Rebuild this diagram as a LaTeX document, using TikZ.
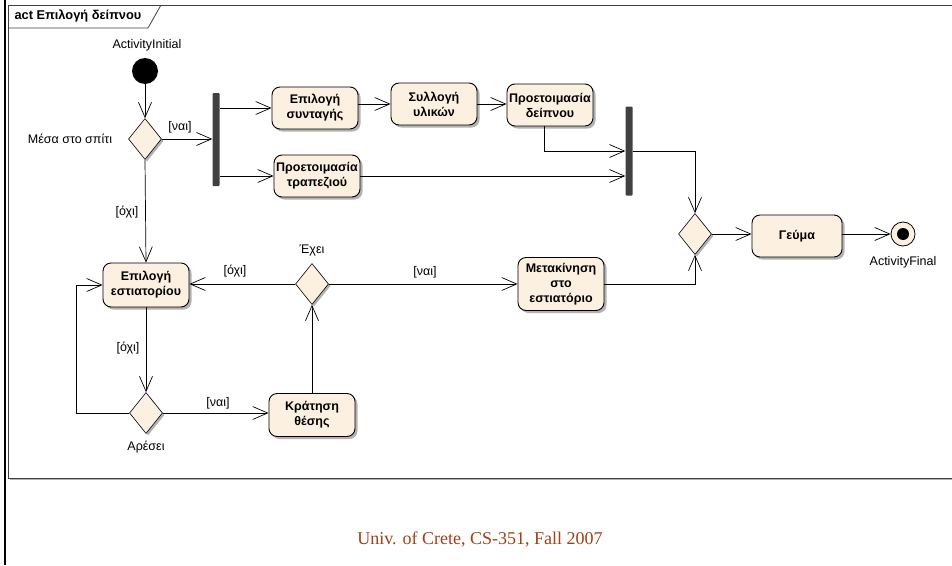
\documentclass[tikz,border=0pt]{standalone}
\usepackage{fontspec}
\setmainfont{Liberation Sans}
\newfontfamily\footfont{Liberation Serif}
\usetikzlibrary{arrows.meta,shapes.geometric,shadows}
\definecolor{actfill}{RGB}{252,240,224}
\definecolor{footcol}{RGB}{165,62,22}

\begin{document}
\begin{tikzpicture}[x=1pt,y=-1pt,
    action/.style={draw,rounded corners=8pt,fill=actfill,line width=0.9pt,align=center,
      font=\bfseries\fontsize{12.5}{15}\selectfont,minimum width=86pt,minimum height=42pt,inner sep=1pt,
      drop shadow={shadow xshift=2.5pt,shadow yshift=-2.5pt,fill=black!30,opacity=1}},
    choice/.style={diamond,draw,fill=actfill,line width=0.6pt,minimum width=33pt,minimum height=41pt,inner sep=0pt,
      drop shadow={shadow xshift=2pt,shadow yshift=-2pt,fill=black!30,opacity=1}},
    bar/.style={fill=black!75,rounded corners=1pt,minimum width=7pt,inner sep=0pt},
    flow/.style={-{Straight Barb[length=15pt,width=13pt]},line width=0.7pt},
    lbl/.style={font=\fontsize{12.5}{14}\selectfont,inner sep=1pt}]
        \useasboundingbox (0,0) rectangle (952,565);

        % frame
        \draw[line width=2pt] (5,0) -- (5,565);
        \draw[black!30,line width=1pt] (9.5,479.5) -- (952,479.5);
        \draw[black!75,line width=1pt] (952,5) -- (8,5) -- (8,478) -- (952,478);
        \draw[black!75,line width=0.8pt] (8,28) -- (148,28) -- (161,5);
        \node[anchor=west,font=\bfseries\fontsize{12.8}{14}\selectfont] (title) at (11,16.5) {act Επιλογή δείπνου};

        % start and first choice
        \node[circle,fill=black,minimum size=26pt,inner sep=0pt] (init) at (145,71) {};
        \node[lbl] (initlbl) at (147,45) {ActivityInitial};
        \node[choice] (home) at (145,139) {};
        \node[lbl] (homelbl) at (70,139) {Μέσα στο σπίτι};
        \node[bar,minimum height=93pt] (fork) at (216,139.5) {};

        % cooking at home
        \node[action] (recipe) at (315,108) {Επιλογή\\συνταγής};
        \node[action] (collect) at (434,104) {Συλλογή\\υλικών};
        \node[action] (cook) at (550,105) {Προετοιμασία\\δείπνου};
        \node[action] (table) at (317,176) {Προετοιμασία\\τραπεζιού};
        \node[bar,minimum height=89pt] (join) at (629,151) {};

        % merge and meal
        \node[choice] (merge) at (695,234) {};
        \node[action,minimum width=90pt] (meal) at (797,236) {Γεύμα};
        \node[circle,draw,fill=actfill,line width=0.8pt,minimum size=24pt,inner sep=0pt,
          path picture={\fill[black] (path picture bounding box.center) circle (6pt);}] (final) at (903,234) {};
        \node[lbl] (finallbl) at (903,262) {ActivityFinal};

        % eating out
        \node[action,minimum height=44pt] (restsel) at (146,285) {Επιλογή\\εστιατορίου};
        \node[choice] (has) at (312,284) {};
        \node[lbl] (haslbl) at (312,250) {Έχει};
        \node[action,minimum height=53pt] (move) at (561,284) {Μετακίνηση\\στο\\εστιατόριο};
        \node[choice] (likes) at (146,413) {};
        \node[lbl] (likeslbl) at (146,447) {Αρέσει};
        \node[action,minimum height=43pt] (book) at (312,415) {Κράτηση\\θέσης};
        \coordinate (loopcorner) at (76,413);

        % flows
        \draw[flow] (init) -- (home);
        \draw[flow] (home.east) -- (home.east -| fork.west);
        \node[lbl] (yes1) at (180,127) {[ναι]};
        \draw[flow] (fork.east |- recipe) -- (recipe.west);
        \draw[flow] (fork.east |- table) -- (table.west);
        \draw[flow] (recipe.east |- collect) -- (collect.west);
        \draw[flow] (collect.east) -- (cook.west |- collect);
        \draw[flow] ([xshift=-6pt]cook.south) |- (join.west);
        \draw[flow] (table.east) -- (join.west |- table);
        \draw[flow] (join.east) -| (merge.north);
        \draw[flow] (move.east) -| (merge.south);
        \draw[flow] (merge.east) -- (meal.west |- merge);
        \draw[flow] (meal.east |- final) -- (final.west);

        \draw[flow] (home.south) -- (restsel.north);
        \node[lbl] (no1) at (127,212) {[όχι]};
        \draw[flow] (has.west) -- (restsel.east |- has);
        \node[lbl] (no2) at (235,271) {[όχι]};
        \draw[flow] (has.east) -- (move.west);
        \node[lbl] (yes2) at (425,272) {[ναι]};
        \draw[flow] (restsel.south) -- (likes.north);
        \node[lbl] (no3) at (128,348) {[όχι]};
        \draw[flow] (likes.west) -- (loopcorner) |- (restsel.west);
        \draw[flow] (likes.east) -- (book.west |- likes);
        \node[lbl] (yes3) at (218,403) {[ναι]};
        \draw[flow] (book.north) -- (has.south);

        \node[font=\footfont\fontsize{18}{20}\selectfont,text=footcol] (foot) at (480,540) {Univ. of Crete, CS-351, Fall 2007};
    \end{tikzpicture}
\end{document}
